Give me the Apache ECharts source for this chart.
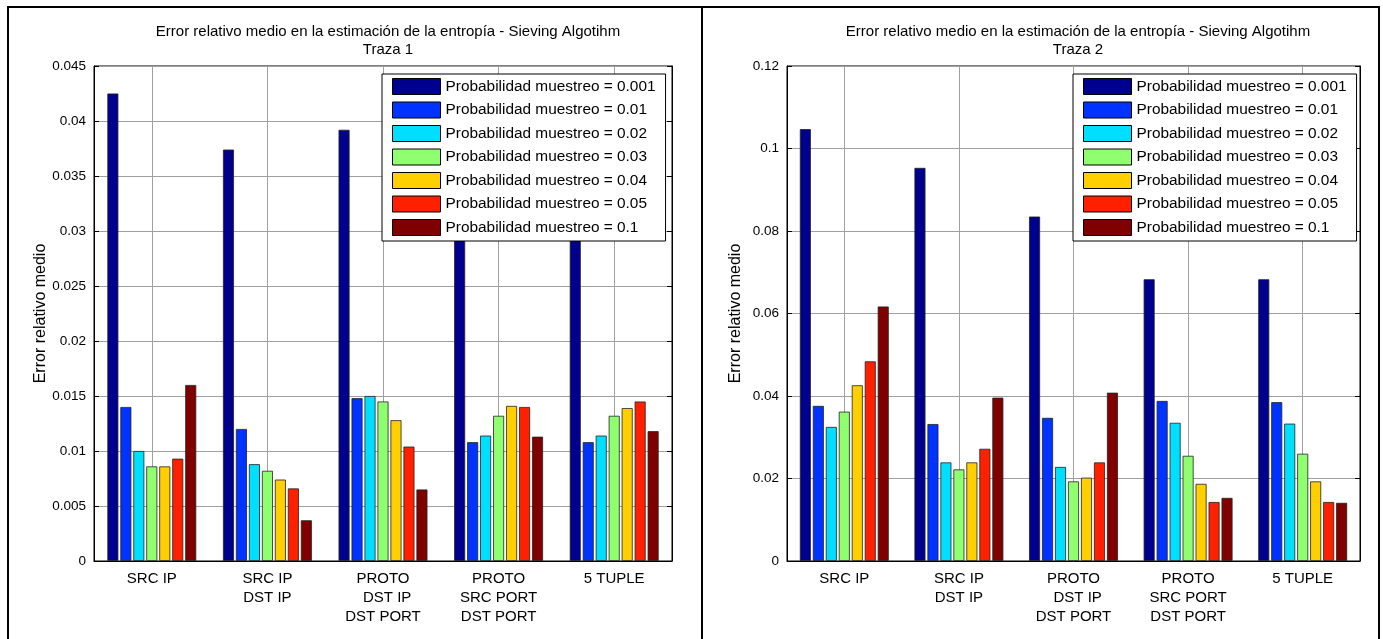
<!DOCTYPE html>
<html><head><meta charset="utf-8">
<script src="https://cdn.jsdelivr.net/npm/echarts@6/dist/echarts.min.js"></script>
<style>html,body{margin:0;padding:0;background:#fff}#c{width:1383px;height:639px}</style>
</head><body><div id="c"></div>
<script>
// ---- data ----
const categories = ['SRC IP', 'SRC IP\nDST IP', 'PROTO\n  DST IP\nDST PORT', 'PROTO\nSRC PORT\nDST PORT', '5 TUPLE'];
const seriesNames = ['Probabilidad muestreo = 0.001', 'Probabilidad muestreo = 0.01', 'Probabilidad muestreo = 0.02',
  'Probabilidad muestreo = 0.03', 'Probabilidad muestreo = 0.04', 'Probabilidad muestreo = 0.05', 'Probabilidad muestreo = 0.1'];
const titles = ['Error relativo medio en la estimación de la entropía - Sieving Algotihm\nTraza 1',
  'Error relativo medio en la estimación de la entropía - Sieving Algotihm\nTraza 2'];
const yName = 'Error relativo medio';

const traza1_p0001 = [0.0425, 0.0374, 0.0392, 0.0370, 0.0370];
const traza1_p001  = [0.0140, 0.0120, 0.0148, 0.0108, 0.0108];
const traza1_p002  = [0.0100, 0.0088, 0.0150, 0.0114, 0.0114];
const traza1_p003  = [0.0086, 0.0082, 0.0145, 0.0132, 0.0132];
const traza1_p004  = [0.0086, 0.0074, 0.0128, 0.0141, 0.0139];
const traza1_p005  = [0.0093, 0.0066, 0.0104, 0.0140, 0.0145];
const traza1_p01   = [0.0160, 0.0037, 0.0065, 0.0113, 0.0118];

const traza2_p0001 = [0.1047, 0.0953, 0.0835, 0.0683, 0.0683];
const traza2_p001  = [0.0376, 0.0332, 0.0347, 0.0388, 0.0385];
const traza2_p002  = [0.0325, 0.0239, 0.0228, 0.0335, 0.0333];
const traza2_p003  = [0.0362, 0.0222, 0.0193, 0.0255, 0.0260];
const traza2_p004  = [0.0426, 0.0239, 0.0202, 0.0187, 0.0193];
const traza2_p005  = [0.0484, 0.0272, 0.0239, 0.0143, 0.0143];
const traza2_p01   = [0.0617, 0.0396, 0.0408, 0.0153, 0.0141];

const yAxis1 = { min: 0, max: 0.045, interval: 0.005 };
const yAxis2 = { min: 0, max: 0.12, interval: 0.02 };

// ---- styling ----
const colors = ['#00008f', '#0033ff', '#00dfff', '#8fff70', '#ffcf00', '#ff2000', '#800000'];
const FONT = 'Liberation Sans, Arial, sans-serif';
const traza1 = [traza1_p0001, traza1_p001, traza1_p002, traza1_p003, traza1_p004, traza1_p005, traza1_p01];
const traza2 = [traza2_p0001, traza2_p001, traza2_p002, traza2_p003, traza2_p004, traza2_p005, traza2_p01];

const grids = [
  { left: 94, right: 711, top: 66, bottom: 78, show: true, borderColor: '#000', borderWidth: 1 },
  { left: 787, right: 23, top: 66, bottom: 78, show: true, borderColor: '#000', borderWidth: 1 }
];

function xAx(gi) {
  return {
    type: 'category', gridIndex: gi, data: categories,
    axisLine: { lineStyle: { color: '#000', width: 1 } },
    axisTick: { show: false },
    axisLabel: { color: '#000', fontFamily: FONT, fontSize: 15, lineHeight: 19, margin: 8, interval: 0 },
    splitLine: { show: true, alignWithLabel: true, lineStyle: { color: '#a0a0a0', width: 1 } }
  };
}
function fmt(v) { return String(+v.toFixed(3)); }
function yAx(gi, cfg, right) {
  return {
    type: 'value', gridIndex: gi, min: cfg.min, max: cfg.max, interval: cfg.interval,
    position: right ? 'right' : 'left',
    name: right ? '' : yName, nameLocation: 'middle', nameGap: 43,
    nameTextStyle: { color: '#000', fontFamily: FONT, fontSize: 16 },
    axisLine: { show: true, lineStyle: { color: '#000', width: 1 } },
    axisTick: { show: true, inside: true, length: 5, lineStyle: { color: '#000' } },
    axisLabel: { show: !right, color: '#000', fontFamily: FONT, fontSize: 13.5, margin: 8, formatter: fmt },
    splitLine: { show: !right, lineStyle: { color: '#a0a0a0', width: 1 } }
  };
}

const series = [];
[traza1, traza2].forEach((set, gi) => {
  set.forEach((vals, i) => {
    series.push({
      type: 'bar', name: seriesNames[i], xAxisIndex: gi, yAxisIndex: gi * 2,
      data: vals, barWidth: 11, barGap: '18%',
      itemStyle: { color: colors[i], borderColor: '#222', borderWidth: 0.8 },
      emphasis: { disabled: true }, z: 2
    });
  });
});

function legend(left) {
  return {
    orient: 'vertical', left: left, top: 74, data: seriesNames, icon: 'rect',
    itemWidth: 48, itemHeight: 16, itemGap: 6.5,
    padding: [4, 10, 5, 10], borderColor: '#000', borderWidth: 1, backgroundColor: '#fff',
    textStyle: { color: '#000', fontFamily: FONT, fontSize: 15.4 },
    itemStyle: { borderColor: '#000', borderWidth: 1 },
    selectedMode: false, z: 10
  };
}

const titleStyle = { color: '#000', fontFamily: FONT, fontSize: 15, fontWeight: 'normal', lineHeight: 18 };
const option = {
  animation: false,
  backgroundColor: '#fff',
  color: colors,
  title: [
    { text: titles[0], left: 383, top: 18, textAlign: 'center', textStyle: titleStyle },
    { text: titles[1], left: 1073, top: 18, textAlign: 'center', textStyle: titleStyle }
  ],
  grid: grids,
  xAxis: [xAx(0), xAx(1)],
  yAxis: [yAx(0, yAxis1, false), yAx(0, yAxis1, true), yAx(1, yAxis2, false), yAx(1, yAxis2, true)],
  legend: [legend(382), legend(1073)],
  series: series,
  graphic: [
    { type: 'rect', shape: { x: 8, y: 7, width: 694, height: 640 }, style: { fill: 'none', stroke: '#000', lineWidth: 2 }, z: 100 },
    { type: 'rect', shape: { x: 702, y: 7, width: 677, height: 640 }, style: { fill: 'none', stroke: '#000', lineWidth: 2 }, z: 100 }
  ]
};

const chart = echarts.init(document.getElementById('c'), null, { renderer: 'canvas' });
chart.setOption(option);
</script></body></html>
